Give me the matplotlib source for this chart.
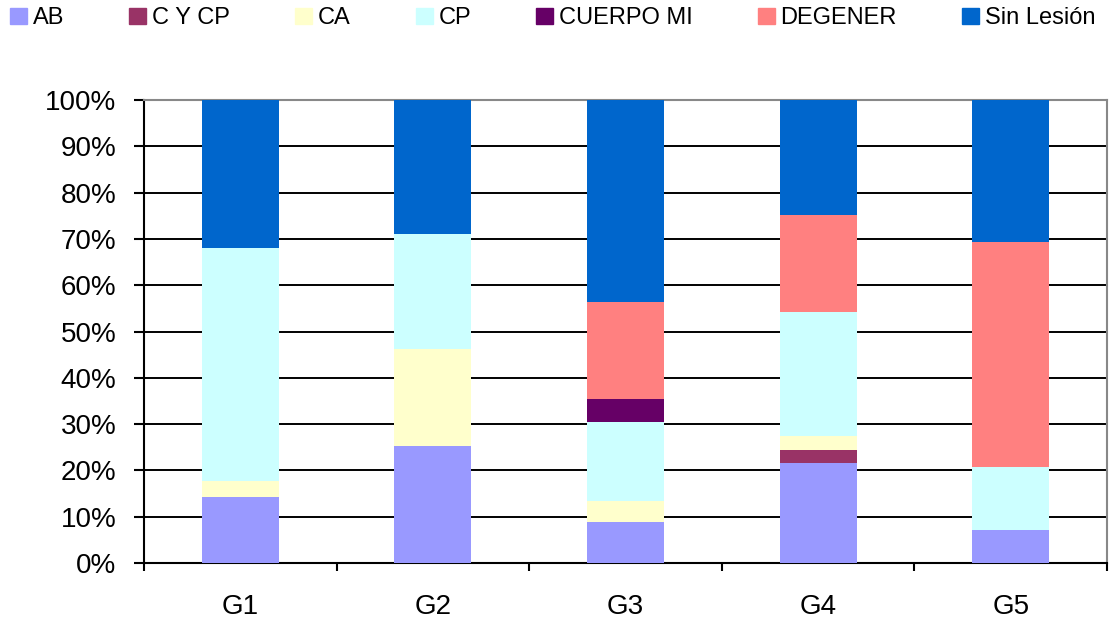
import numpy as np
import matplotlib as mpl
import matplotlib.pyplot as plt
from matplotlib.patches import Rectangle

mpl.rcParams['font.family'] = ['Liberation Sans', 'DejaVu Sans']

# groups and the share (%) of each lesion type
groups = ['G1', 'G2', 'G3', 'G4', 'G5']
series = ['AB', 'C Y CP', 'CA', 'CP', 'CUERPO MI', 'DEGENER', 'Sin Lesión']
colours = ['#9999ff', '#993366', '#ffffcc', '#ccffff', '#660066', '#ff8080', '#0066cc']

ab = [14.3, 25.3, 8.9, 21.6, 7.1]
c_y_cp = [0.0, 0.0, 0.0, 2.8, 0.0]
ca = [3.4, 20.9, 4.5, 3.0, 0.0]
cp = [50.3, 24.8, 17.1, 26.8, 13.6]
cuerpo_mi = [0.0, 0.0, 4.9, 0.0, 0.0]
degener = [0.0, 0.0, 21.0, 21.0, 48.6]
sin_lesion = [32.0, 29.0, 43.6, 24.8, 30.7]

values = [ab, c_y_cp, ca, cp, cuerpo_mi, degener, sin_lesion]

fig = plt.figure(figsize=(11.16, 6.2), dpi=100)
ax = fig.add_axes([144 / 1116, 57 / 620, 963 / 1116, 463 / 620])

x = np.arange(len(groups))
bottom = np.zeros(len(groups))
for name, vals, col in zip(series, values, colours):
    ax.bar(x, vals, width=0.4, bottom=bottom, color=col, label=name, zorder=3)
    bottom += np.array(vals)

ax.set_xlim(-0.5, len(groups) - 0.5)
ax.set_ylim(0, 100)
ax.set_yticks(np.arange(0, 101, 10))
ax.set_yticklabels(['{}%'.format(v) for v in range(0, 101, 10)], fontsize=20)
ax.yaxis.grid(True, color='black', linewidth=1.4, zorder=1)
ax.set_axisbelow(True)

# group labels centred, ticks on the boundaries
ax.set_xticks(np.arange(-0.5, len(groups), 1.0))
ax.set_xticklabels([])
ax.set_xticks(x, minor=True)
ax.set_xticklabels(groups, minor=True, fontsize=20)
ax.tick_params(axis='x', which='minor', length=0, pad=22)
ax.tick_params(axis='x', which='major', length=6, width=1.5, direction='out')
ax.tick_params(axis='y', length=7, width=1.5, direction='out', pad=13)

ax.spines['left'].set_color('black')
ax.spines['left'].set_linewidth(1.5)
ax.spines['bottom'].set_color('black')
ax.spines['bottom'].set_linewidth(1.5)
ax.spines['top'].set_color('#888888')
ax.spines['top'].set_linewidth(1.5)
ax.spines['right'].set_color('#888888')
ax.spines['right'].set_linewidth(1.5)

handles = [Rectangle((0, 0), 1, 1, color=c) for c in colours]
fig.legend(handles, series, loc='center left', bbox_to_anchor=(10 / 1116, 1 - 18 / 620), ncol=7,
           frameon=False, fontsize=17, handlelength=0.72, handleheight=0.68,
           handletextpad=0.25, columnspacing=2.75, borderaxespad=0, borderpad=0)

fig.savefig('out.png', dpi=100)
